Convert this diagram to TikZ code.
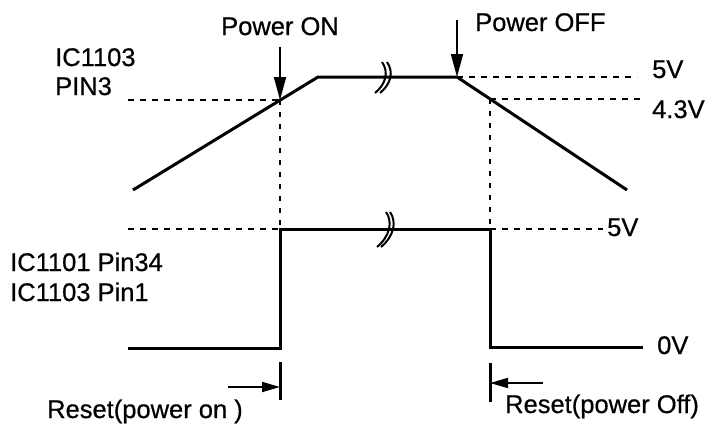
\documentclass[tikz,border=0pt]{standalone}
\usepackage{fontspec}
\setmainfont{Liberation Sans}[FakeBold=0.6]
\usetikzlibrary{arrows.meta}
\begin{document}
\begin{tikzpicture}[x=1pt,y=-1pt,
  wave/.style={line width=3pt},
  dsh/.style={line width=2.6pt,dash pattern=on 6pt off 6pt},
  vdsh/.style={line width=2.6pt,dash pattern=on 5pt off 7pt},
  arr/.style={line width=1.8pt,-{Triangle[length=23pt,width=12pt]}},
  sarr/.style={line width=1.8pt,-{Triangle[length=18pt,width=10pt]}},
  brk/.style={line width=2pt},
  lbl/.style={inner sep=0pt,anchor=base west,font=\fontsize{25.5}{30}\selectfont}]
\path[use as bounding box] (0,0) rectangle (712,424);
% coordinates
\coordinate (A) at (133,190);
\coordinate (B) at (318,77);
\coordinate (C) at (457,77);
\coordinate (D) at (627,190);
\coordinate (P1) at (280,100);
\coordinate (Q) at (490,99);
\coordinate (Pon) at (280,47);
\coordinate (Poff) at (457,20);
\coordinate (L0) at (128,100);
\coordinate (T5) at (637,77);
\coordinate (T43) at (643,99);
\coordinate (R1) at (280,229);
\coordinate (R2) at (490,229);
\coordinate (LL) at (128,348);
\coordinate (L1) at (280,348);
\coordinate (L2) at (490,347);
\coordinate (LR) at (643,347);
\coordinate (H0) at (128,229);
\coordinate (H5) at (603,229);
% top waveform
\draw[wave] (A) -- (B) -- (C) -- (D);
\draw[dsh] (L0) -- (P1);
\draw[dsh] (C) -- (T5);
\draw[dsh] (Q) -- (T43);
\draw[arr] (Pon) -- (P1);
\draw[arr] (Poff) -- (C);
% vertical dashed
\draw[vdsh] (P1) -- (R1);
\draw[vdsh] (Q) -- (R2);
% bottom waveform
\draw[wave] (LL) -- (L1) -- (R1) -- (R2) -- (L2) -- (LR);
\draw[dsh] (H0) -- (R1);
\draw[dsh] (R2) -- (H5);
% break symbols
\draw[brk] (382,62) .. controls (389,72) and (386,84) .. (375,93);
\draw[brk] (387,62) .. controls (394,72) and (391,84) .. (380,93);
\draw[brk] (386,212) .. controls (393,222) and (390,236) .. (377,247);
\draw[brk] (390,212) .. controls (397,222) and (394,236) .. (381,247);
% reset markers
\coordinate (M1a) at (280,362);
\coordinate (M1b) at (280,400);
\coordinate (M1t) at (280,387);
\coordinate (M1s) at (228,387);
\coordinate (M2a) at (490,363);
\coordinate (M2b) at (490,402);
\coordinate (M2t) at (490,383);
\coordinate (M2s) at (543,383);
\draw[wave] (M1a) -- (M1b);
\draw[wave] (M2a) -- (M2b);
\draw[sarr] (M1s) -- (M1t);
\draw[sarr] (M2s) -- (M2t);
% labels
\node[lbl] (tpon) at (221,35) {Power ON};
\node[lbl] (tpoff) at (475,31) {Power OFF};
\node[lbl] (tic3a) at (55,66) {IC1103};
\node[lbl] (tic3b) at (55,95) {PIN3};
\node[lbl] (t5a) at (652,78) {5V};
\node[lbl] (t43) at (652,118) {4.3V};
\node[lbl] (tic1a) at (10,271) {IC1101 Pin34};
\node[lbl] (tic1b) at (10,301) {IC1103 Pin1};
\node[lbl] (t5b) at (607,236) {5V};
\node[lbl] (t0) at (657,354) {0V};
\node[lbl] (tron) at (47,418) {Reset(power on )};
\node[lbl] (troff) at (505,413) {Reset(power Off)};
\end{tikzpicture}
\end{document}
